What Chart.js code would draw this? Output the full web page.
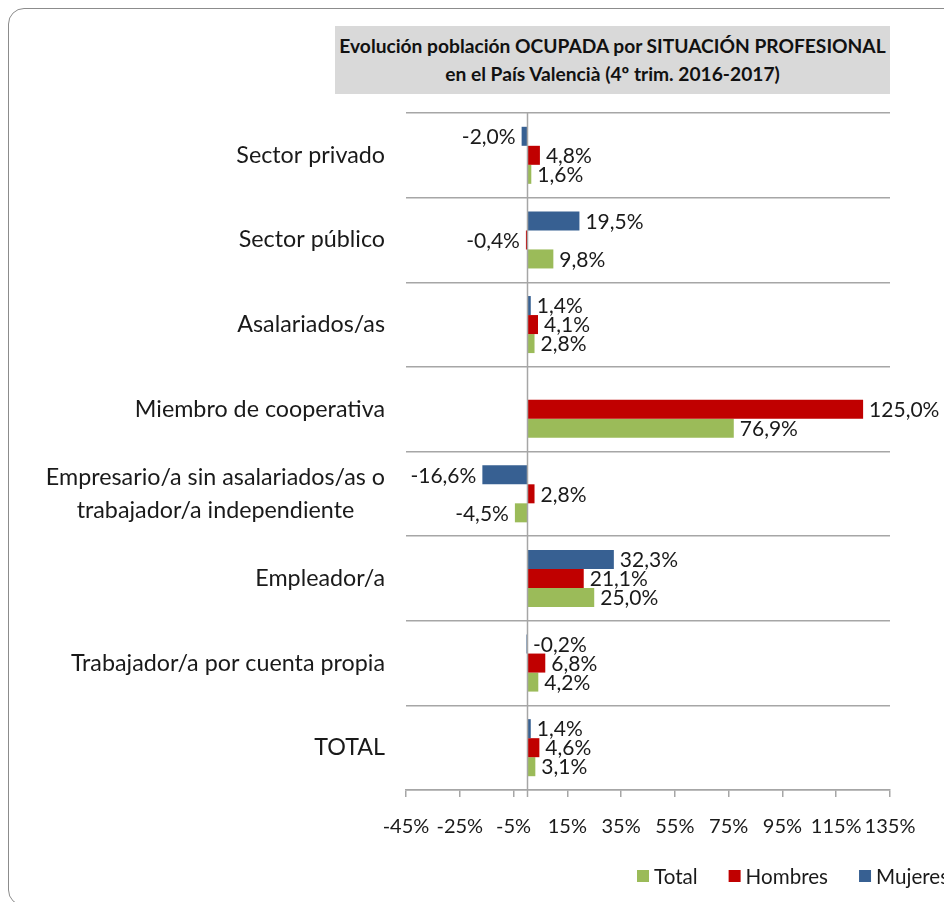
<!DOCTYPE html>
<html>
<head>
<meta charset="utf-8">
<script src="https://cdn.jsdelivr.net/npm/chart.js@4.4.1/dist/chart.umd.min.js"></script>
<style>
  html, body { margin: 0; padding: 0; background: #fff; overflow: hidden; }
  body { width: 944px; height: 902px; position: relative; }
  #frame {
    position: absolute; left: 8px; top: 8px; width: 970px; height: 898px;
    border: 1.5px solid #8c8c8c; border-radius: 16px; box-sizing: border-box;
  }
  #title {
    position: absolute; left: 335px; top: 26px; width: 555px; height: 68px;
    background: #d9d9d9; box-sizing: border-box; padding-top: 6px;
    font-family: Lato, sans-serif; font-weight: bold; font-size: 19.2px;
    line-height: 28px; text-align: center; color: #111;
  }
  #wrap { position: absolute; left: 0; top: 0; width: 1000px; height: 902px; }
</style>
</head>
<body>
<div id="frame"></div>
<div id="title">Evolución población OCUPADA por SITUACIÓN PROFESIONAL<br>en el País Valencià (4º trim. 2016-2017)</div>
<div id="wrap"><canvas id="situacionChart" width="1000" height="902"></canvas></div>
<script>
const categories = [
    ['Sector privado'],
    ['Sector público'],
    ['Asalariados/as'],
    ['Miembro de cooperativa'],
    ['Empresario/a sin asalariados/as o', 'trabajador/a independiente'],
    ['Empleador/a'],
    ['Trabajador/a por cuenta propia'],
    ['TOTAL']
];
const mujeres = [-2.0, 19.5, 1.4, null, -16.6, 32.3, -0.2, 1.4];
const hombres = [4.8, -0.4, 4.1, 125.0, 2.8, 21.1, 6.8, 4.6];
const total = [1.6, 9.8, 2.8, 76.9, -4.5, 25.0, 4.2, 3.1];
const axisMin = -45;
const axisMax = 135;
const axisStep = 20;

const FONT = 'Lato, sans-serif';
const TEXT = '#1a1a1a';
const GRID = '#a6a6a6';

function fmtPct(v) {
    return v.toFixed(1).replace('.', ',') + '%';
}

// category labels: block right-aligned, lines centered within the block
const categoryLabels = {
    id: 'categoryLabels',
    afterDraw(chart) {
        const ctx = chart.ctx;
        const y = chart.scales.y;
        ctx.save();
        ctx.font = '23.3px ' + FONT;
        ctx.fillStyle = TEXT;
        ctx.textAlign = 'center';
        ctx.textBaseline = 'middle';
        const lineH = 33;
        categories.forEach((lines, i) => {
            const cy = y.getPixelForTick(i);
            const w = Math.max(...lines.map(l => ctx.measureText(l).width));
            const cx = 385 - w / 2;
            lines.forEach((l, j) => {
                ctx.fillText(l, cx, cy + (j - (lines.length - 1) / 2) * lineH);
            });
        });
        ctx.restore();
    }
};

// vertical zero line
const zeroLine = {
    id: 'zeroLine',
    afterDatasetsDraw(chart) {
        const ctx = chart.ctx;
        const x0 = Math.round(chart.scales.x.getPixelForValue(0)) + 0.5;
        ctx.save();
        ctx.strokeStyle = GRID;
        ctx.lineWidth = 1.5;
        ctx.beginPath();
        ctx.moveTo(x0, chart.chartArea.top);
        ctx.lineTo(x0, chart.chartArea.bottom + 7);
        ctx.stroke();
        ctx.restore();
    }
};

const valueLabels = {
    id: 'valueLabels',
    afterDatasetsDraw(chart) {
        const ctx = chart.ctx;
        ctx.save();
        ctx.font = '21px ' + FONT;
        ctx.fillStyle = TEXT;
        ctx.textBaseline = 'middle';
        chart.data.datasets.forEach((ds, di) => {
            const meta = chart.getDatasetMeta(di);
            meta.data.forEach((bar, i) => {
                const v = ds.data[i];
                if (v === null || v === undefined) return;
                if (v < -0.3) {
                    ctx.textAlign = 'right';
                    ctx.fillText(fmtPct(v), Math.min(bar.x, bar.base) - 6, bar.y + 1);
                } else {
                    ctx.textAlign = 'left';
                    ctx.fillText(fmtPct(v), Math.max(bar.x, bar.base) + 6, bar.y + 1);
                }
            });
        });
        ctx.restore();
    }
};

// legend drawn in reverse dataset order, like the original
const bottomLegend = {
    id: 'bottomLegend',
    afterDraw(chart) {
        const ctx = chart.ctx;
        ctx.save();
        ctx.font = '20.6px ' + FONT;
        ctx.textBaseline = 'middle';
        ctx.textAlign = 'left';
        let x = 637;
        const cy = 877;
        chart.data.datasets.slice().reverse().forEach(ds => {
            ctx.fillStyle = ds.backgroundColor;
            ctx.fillRect(x, cy - 7, 12, 12);
            x += 17;
            ctx.fillStyle = TEXT;
            ctx.fillText(ds.label, x, cy);
            x += ctx.measureText(ds.label).width + 31;
        });
        ctx.restore();
    }
};

const ctx = document.getElementById('situacionChart').getContext('2d');
const situacionChart = new Chart(ctx, {
    type: 'bar',
    data: {
        labels: categories,
        datasets: [
            { label: 'Mujeres', data: mujeres, backgroundColor: '#376092' },
            { label: 'Hombres', data: hombres, backgroundColor: '#c00000' },
            { label: 'Total', data: total, backgroundColor: '#9bbb59' }
        ]
    },
    options: {
        indexAxis: 'y',
        responsive: false,
        animation: false,
        categoryPercentage: 0.674,
        barPercentage: 1,
        layout: { padding: { top: 113, right: 110, bottom: 62, left: 0 } },
        plugins: {
            legend: { display: false },
            tooltip: { enabled: false }
        },
        scales: {
            x: {
                min: axisMin,
                max: axisMax,
                afterFit: (s) => { s.height = 50; },
                ticks: {
                    stepSize: axisStep,
                    padding: 18,
                    maxRotation: 0,
                    minRotation: 0,
                    autoSkip: false,
                    color: TEXT,
                    font: { family: FONT, size: 20 },
                    callback: (v) => v + '%'
                },
                grid: { drawOnChartArea: false, drawTicks: true, tickLength: 7, color: GRID, lineWidth: 1.5 },
                border: { display: true, color: GRID, width: 1.5 }
            },
            y: {
                afterFit: (s) => { s.width = 406; },
                ticks: { display: false },
                grid: { color: GRID, lineWidth: 1.5, drawTicks: false, offset: true },
                border: { display: false }
            }
        }
    },
    plugins: [zeroLine, valueLabels, categoryLabels, bottomLegend]
});
</script>
</body>
</html>
